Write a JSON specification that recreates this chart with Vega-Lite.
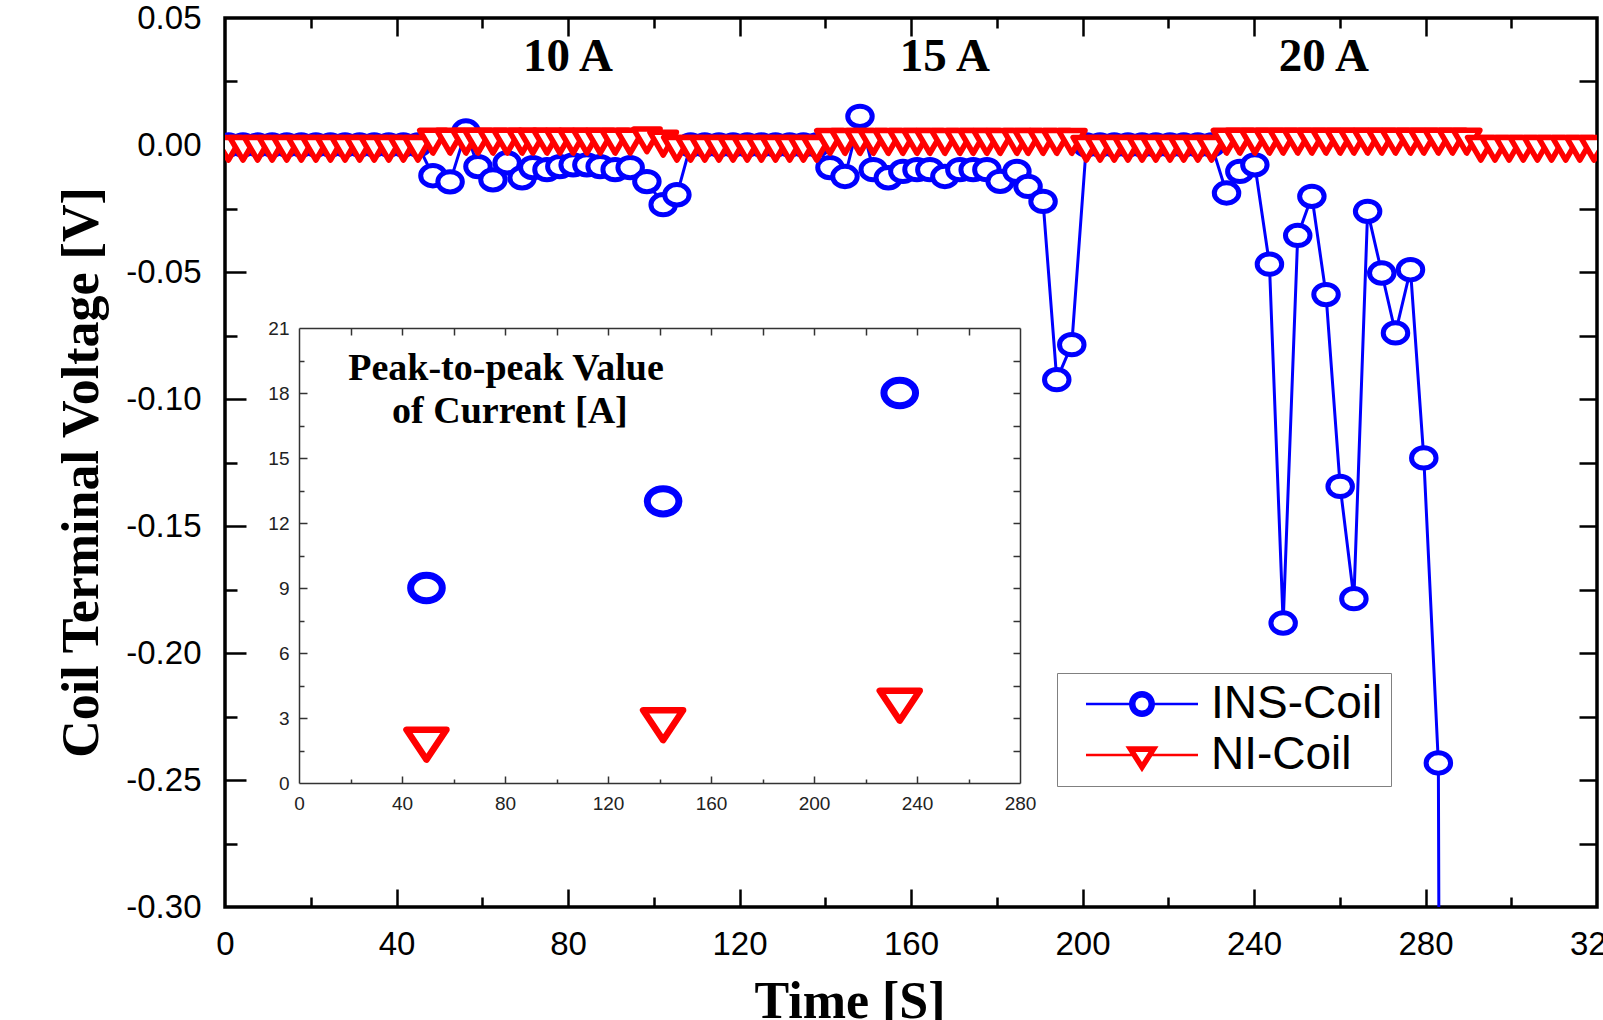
{
  "$schema": "https://vega.github.io/schema/vega-lite/v6.json",
  "width": 1372,
  "height": 889,
  "autosize": {"type": "none"},
  "padding": {"left": 225, "top": 18, "right": 6, "bottom": 113},
  "background": "white",
  "config": {
    "view": {"stroke": "black", "strokeWidth": 3.5},
    "axis": {"grid": false, "labelFont": "Liberation Sans", "labelColor": "black", "tickColor": "black", "domainColor": "black", "titleFont": "Liberation Serif", "titleColor": "black", "labelFlush": false, "labelOverlap": false, "labelBound": false}
  },
  "datasets": {
    "ins": [
      {"t":0.8,"v":0},{"t":4.2,"v":0},{"t":7.6,"v":0},{"t":11.0,"v":0},{"t":14.4,"v":0},{"t":17.8,"v":0},{"t":21.2,"v":0},{"t":24.6,"v":0},{"t":28.0,"v":0},{"t":31.4,"v":0},{"t":34.8,"v":0},{"t":38.2,"v":0},{"t":41.6,"v":0},{"t":45.0,"v":0},
      {"t":48.5,"v":-0.0121},{"t":52.5,"v":-0.0145},{"t":56.2,"v":0.0055},{"t":59.0,"v":-0.0085},{"t":62.5,"v":-0.0137},{"t":65.8,"v":-0.0070},{"t":69.3,"v":-0.0129},{"t":71.8,"v":-0.0089},{"t":75.1,"v":-0.0097},{"t":78.1,"v":-0.0085},{"t":81.2,"v":-0.0078},{"t":84.4,"v":-0.0078},{"t":87.5,"v":-0.0085},{"t":91.0,"v":-0.0097},{"t":94.5,"v":-0.0089},{"t":98.4,"v":-0.0144},{"t":102.2,"v":-0.0235},{"t":105.4,"v":-0.0196},
      {"t":108.6,"v":0},{"t":111.9,"v":0},{"t":115.2,"v":0},{"t":118.5,"v":0},{"t":121.8,"v":0},{"t":125.1,"v":0},{"t":128.4,"v":0},{"t":131.7,"v":0},{"t":134.9,"v":0},{"t":138.0,"v":0},
      {"t":141.1,"v":-0.0089},{"t":144.6,"v":-0.0124},{"t":148.1,"v":0.0113},{"t":151.2,"v":-0.0097},{"t":154.7,"v":-0.0129},{"t":158.1,"v":-0.0104},{"t":161.4,"v":-0.0097},{"t":164.4,"v":-0.0097},{"t":167.9,"v":-0.0124},{"t":171.4,"v":-0.0097},{"t":174.5,"v":-0.0097},{"t":177.7,"v":-0.0097},{"t":180.8,"v":-0.0143},{"t":184.7,"v":-0.0104},{"t":187.3,"v":-0.0163},{"t":190.8,"v":-0.0222},{"t":194.0,"v":-0.0924},{"t":197.5,"v":-0.0786},
      {"t":200.9,"v":0},{"t":204.1,"v":0},{"t":207.4,"v":0},{"t":210.6,"v":0},{"t":213.9,"v":0},{"t":217.1,"v":0},{"t":220.4,"v":0},{"t":223.6,"v":0},{"t":226.9,"v":0},{"t":230.1,"v":0},
      {"t":233.6,"v":-0.0189},{"t":236.7,"v":-0.0104},{"t":240.2,"v":-0.0078},{"t":243.6,"v":-0.0469},{"t":246.8,"v":-0.1882},{"t":250.2,"v":-0.0356},{"t":253.5,"v":-0.0202},{"t":256.8,"v":-0.0589},{"t":260.1,"v":-0.1344},{"t":263.3,"v":-0.1786},{"t":266.5,"v":-0.0261},{"t":269.8,"v":-0.0504},{"t":273.0,"v":-0.0740},{"t":276.5,"v":-0.0491},{"t":279.6,"v":-0.1232},{"t":283.0,"v":-0.2433},{"t":283.4,"v":-0.45}
    ],
    "ni": [
      {"t":0.8,"v":0},{"t":4.2,"v":0},{"t":7.6,"v":0},{"t":11.0,"v":0},{"t":14.4,"v":0},{"t":17.8,"v":0},{"t":21.2,"v":0},{"t":24.6,"v":0},{"t":28.0,"v":0},{"t":31.4,"v":0},{"t":34.8,"v":0},{"t":38.2,"v":0},{"t":41.6,"v":0},{"t":45.0,"v":0},
      {"t":48.5,"v":0.0028},{"t":52.5,"v":0.0028},{"t":56.2,"v":0.0028},{"t":59.0,"v":0.0028},{"t":62.5,"v":0.0028},{"t":65.8,"v":0.0028},{"t":69.3,"v":0.0028},{"t":71.8,"v":0.0028},{"t":75.1,"v":0.0028},{"t":78.1,"v":0.0028},{"t":81.2,"v":0.0028},{"t":84.4,"v":0.0028},{"t":87.5,"v":0.0028},{"t":91.0,"v":0.0028},{"t":94.5,"v":0.0028},{"t":98.4,"v":0.0033},{"t":102.2,"v":0.002},{"t":105.4,"v":0},
      {"t":108.6,"v":0},{"t":111.9,"v":0},{"t":115.2,"v":0},{"t":118.5,"v":0},{"t":121.8,"v":0},{"t":125.1,"v":0},{"t":128.4,"v":0},{"t":131.7,"v":0},{"t":134.9,"v":0},{"t":138.0,"v":0},
      {"t":141.1,"v":0.0027},{"t":144.6,"v":0.0027},{"t":148.1,"v":0.0027},{"t":151.2,"v":0.0027},{"t":154.7,"v":0.0027},{"t":158.1,"v":0.0027},{"t":161.4,"v":0.0027},{"t":164.4,"v":0.0027},{"t":167.9,"v":0.0027},{"t":171.4,"v":0.0027},{"t":174.5,"v":0.0027},{"t":177.7,"v":0.0027},{"t":180.8,"v":0.0027},{"t":184.7,"v":0.0027},{"t":187.3,"v":0.0027},{"t":190.8,"v":0.0027},{"t":194.0,"v":0.0027},{"t":197.5,"v":0.0027},
      {"t":200.9,"v":0},{"t":204.1,"v":0},{"t":207.4,"v":0},{"t":210.6,"v":0},{"t":213.9,"v":0},{"t":217.1,"v":0},{"t":220.4,"v":0},{"t":223.6,"v":0},{"t":226.9,"v":0},{"t":230.1,"v":0},
      {"t":233.6,"v":0.0028},{"t":236.7,"v":0.0028},{"t":240.2,"v":0.0028},{"t":243.6,"v":0.0028},{"t":246.8,"v":0.0028},{"t":250.2,"v":0.0028},{"t":253.5,"v":0.0028},{"t":256.8,"v":0.0028},{"t":260.1,"v":0.0028},{"t":263.3,"v":0.0028},{"t":266.5,"v":0.0028},{"t":269.8,"v":0.0028},{"t":273.0,"v":0.0028},{"t":276.5,"v":0.0028},{"t":279.6,"v":0.0028},{"t":283.0,"v":0.0028},{"t":286.3,"v":0.0028},{"t":289.6,"v":0.0028},
      {"t":292.9,"v":0},{"t":296.2,"v":0},{"t":299.5,"v":0},{"t":302.8,"v":0},{"t":306.1,"v":0},{"t":309.4,"v":0},{"t":312.7,"v":0},{"t":316.0,"v":0},{"t":319.3,"v":0}
    ],
    "labels": [
      {"label":"10 A","t":80.0,"v":0.0291},
      {"label":"15 A","t":167.9,"v":0.0291},
      {"label":"20 A","t":256.3,"v":0.0291}
    ],
    "leg": [
      {"series":"INS-Coil","t":-50,"v":-1},
      {"series":"NI-Coil","t":-50,"v":-1}
    ],
    "ins_pp": [
      {"t":49.5,"a":9.0},{"t":141.4,"a":13.0},{"t":233.3,"a":18.0}
    ],
    "ni_pp": [
      {"t":49.5,"a":2.0},{"t":141.4,"a":2.9},{"t":233.3,"a":3.8}
    ],
    "inset_text": [
      {"label":"Peak-to-peak Value","t":80.4,"a":18.6},
      {"label":"of Current [A]","t":81.9,"a":16.6}
    ]
  },
  "layer": [
    {
      "layer": [
        {
          "data": {"name": "ins"},
          "mark": {"type": "line", "color": "#0000ff", "strokeWidth": 3, "clip": true},
          "encoding": {
            "x": {"field": "t", "type": "quantitative", "scale": {"domain": [0, 320], "nice": false, "zero": false},
              "axis": {"orient": "bottom", "values": [0,40,80,120,160,200,240,280,320], "ticks": false, "domain": false, "labelFontSize": 33, "labelPadding": 21, "title": "Time [S]", "titleFontSize": 52, "titleFontWeight": "bold", "titleX": 624.5, "titleY": 110.5, "titleAlign": "center", "titleBaseline": "alphabetic", "titleAngle": 0}},
            "y": {"field": "v", "type": "quantitative", "scale": {"domain": [-0.3, 0.05], "nice": false, "zero": false},
              "axis": {"orient": "left", "values": [0.05,0,-0.05,-0.1,-0.15,-0.2,-0.25,-0.3], "labelExpr": "replace(format(datum.value, '.2f'), '−', '-')", "ticks": false, "domain": false, "labelFontSize": 33, "labelPadding": 24, "title": "Coil Terminal Voltage [V]", "titleFontSize": 52, "titleFontWeight": "bold", "titleX": -128, "titleY": 454, "titleAngle": -90, "titleAlign": "center", "titleBaseline": "alphabetic"}}
          }
        },
        {
          "data": {"name": "ins"},
          "mark": {"type": "point", "shape": "M -1 0 A 1 0.83 0 1 1 1 0 A 1 0.83 0 1 1 -1 0 Z", "size": 600, "filled": true, "fill": "white", "stroke": "#0000ff", "strokeWidth": 5, "opacity": 1, "clip": true},
          "encoding": {
            "x": {"field": "t", "type": "quantitative", "axis": {"orient": "bottom", "values": [40,80,120,160,200,240,280], "labels": false, "domain": false, "tickSize": -18, "tickWidth": 2.5, "title": null}},
            "y": {"field": "v", "type": "quantitative", "axis": {"orient": "left", "values": [0,-0.05,-0.1,-0.15,-0.2,-0.25], "labels": false, "domain": false, "tickSize": -21, "tickWidth": 2.5, "title": null}}
          }
        },
        {
          "data": {"name": "ni"},
          "mark": {"type": "line", "color": "#ff0000", "strokeWidth": 2, "clip": true},
          "encoding": {
            "x": {"field": "t", "type": "quantitative", "axis": {"orient": "bottom", "values": [20,60,100,140,180,220,260,300], "labels": false, "domain": false, "tickSize": -10, "tickWidth": 2.5, "title": null}},
            "y": {"field": "v", "type": "quantitative", "axis": {"orient": "left", "values": [0.025,-0.025,-0.075,-0.125,-0.175,-0.225,-0.275], "labels": false, "domain": false, "tickSize": -12, "tickWidth": 2.5, "title": null}}
          }
        },
        {
          "data": {"name": "ni"},
          "mark": {"type": "point", "shape": "M -1 -0.57 L 1 -0.57 L 0 1.14 Z", "size": 702, "filled": true, "fill": "white", "stroke": "#ff0000", "strokeWidth": 5.5, "strokeJoin": "round", "opacity": 1, "clip": true},
          "encoding": {
            "x": {"field": "t", "type": "quantitative", "axis": {"orient": "top", "values": [40,80,120,160,200,240,280], "labels": false, "domain": false, "tickSize": -18, "tickWidth": 2.5, "title": null}},
            "y": {"field": "v", "type": "quantitative", "axis": {"orient": "right", "values": [0.025,0,-0.025,-0.05,-0.075,-0.1,-0.125,-0.15,-0.175,-0.2,-0.225,-0.25,-0.275], "labels": false, "domain": false, "tickSize": -18, "tickWidth": 2.5, "title": null}}
          }
        },
        {
          "data": {"name": "labels"},
          "mark": {"type": "text", "font": "Liberation Serif", "fontWeight": "bold", "fontSize": 47, "align": "center", "baseline": "alphabetic", "color": "black"},
          "encoding": {
            "x": {"field": "t", "type": "quantitative", "axis": {"orient": "top", "values": [20,60,100,140,180,220,260,300], "labels": false, "domain": false, "tickSize": -10, "tickWidth": 2.5, "title": null}},
            "y": {"field": "v", "type": "quantitative", "axis": null},
            "text": {"field": "label"}
          }
        },
        {
          "data": {"name": "leg"},
          "mark": {"type": "point", "filled": true, "opacity": 1, "clip": true, "strokeWidth": 0},
          "encoding": {
            "x": {"field": "t", "type": "quantitative", "axis": null},
            "y": {"field": "v", "type": "quantitative", "axis": null},
            "color": {"field": "series", "type": "nominal", "scale": {"domain": ["INS-Coil", "NI-Coil"], "range": ["#0000ff", "#ff0000"]},
              "legend": {"orient": "none", "legendX": 832, "legendY": 655, "title": null, "padding": 8, "strokeColor": "#808080", "fillColor": "white", "symbolSize": 400, "symbolStrokeWidth": 0, "symbolOffset": 54, "labelOffset": 46, "labelFontSize": 46, "labelFont": "Liberation Sans", "labelColor": "black", "rowPadding": 5, "labelLimit": 400}},
            "shape": {"field": "series", "type": "nominal", "scale": {"domain": ["INS-Coil", "NI-Coil"], "range": [
              "M -5.6 -0.12 L -1.25 -0.12 L -1.25 0.12 L -5.6 0.12 Z M 1.25 -0.12 L 5.6 -0.12 L 5.6 0.12 L 1.25 0.12 Z M -1.3 0 A 1.3 1.3 0 1 1 1.3 0 A 1.3 1.3 0 1 1 -1.3 0 Z M -0.65 0 A 0.65 0.65 0 1 0 0.65 0 A 0.65 0.65 0 1 0 -0.65 0 Z",
              "M -5.6 -0.12 L -1.0 -0.12 L -1.0 0.12 L -5.6 0.12 Z M 1.0 -0.12 L 5.6 -0.12 L 5.6 0.12 L 1.0 0.12 Z M -1.65 -0.87 L 1.65 -0.87 L 0 1.73 Z M -0.64 -0.31 L 0 0.7 L 0.64 -0.31 Z"
            ]},
              "legend": {"orient": "none", "legendX": 832, "legendY": 655, "title": null, "padding": 8, "strokeColor": "#808080", "fillColor": "white", "symbolSize": 400, "symbolStrokeWidth": 0, "symbolOffset": 54, "labelOffset": 46, "labelFontSize": 46, "labelFont": "Liberation Sans", "labelColor": "black", "rowPadding": 5, "labelLimit": 400}}
          }
        }
      ],
      "resolve": {"axis": {"x": "independent", "y": "independent"}}
    },
    {
      "layer": [
        {
          "data": {"name": "ins_pp"},
          "mark": {"type": "point", "shape": "M -1 0 A 1 0.8 0 1 1 1 0 A 1 0.8 0 1 1 -1 0 Z", "size": 1000, "filled": true, "fill": "white", "stroke": "#0000ff", "strokeWidth": 7, "opacity": 1},
          "encoding": {
            "x": {"field": "t", "type": "quantitative", "scale": {"domain": [0, 280], "range": [74, 795], "nice": false, "zero": false},
              "axis": {"orient": "bottom", "offset": -124, "values": [0,40,80,120,160,200,240,280], "ticks": false, "domain": true, "domainColor": "#333333", "domainWidth": 1.5, "labelFontSize": 19, "labelPadding": 11, "labelColor": "#222222", "title": null}},
            "y": {"field": "a", "type": "quantitative", "scale": {"domain": [0, 21], "range": [765, 310], "nice": false, "zero": false},
              "axis": {"orient": "left", "offset": -74, "values": [0,3,6,9,12,15,18,21], "ticks": false, "domain": true, "domainColor": "#333333", "domainWidth": 1.5, "labelFontSize": 19, "labelPadding": 10, "labelColor": "#222222", "title": null}}
          }
        },
        {
          "data": {"name": "ni_pp"},
          "mark": {"type": "point", "shape": "M -1 -0.5 L 1 -0.5 L 0 1 Z", "size": 1600, "filled": true, "fill": "white", "stroke": "#ff0000", "strokeWidth": 6.5, "strokeJoin": "round", "opacity": 1},
          "encoding": {
            "x": {"field": "t", "type": "quantitative", "axis": {"orient": "bottom", "offset": -124, "values": [40,80,120,160,200,240], "labels": false, "domain": false, "tickSize": -7, "tickWidth": 1.5, "tickColor": "#333333", "title": null}},
            "y": {"field": "a", "type": "quantitative", "axis": {"orient": "left", "offset": -74, "values": [3,6,9,12,15,18], "labels": false, "domain": false, "tickSize": -8, "tickWidth": 1.5, "tickColor": "#333333", "title": null}}
          }
        },
        {
          "data": {"name": "inset_text"},
          "mark": {"type": "text", "font": "Liberation Serif", "fontWeight": "bold", "fontSize": 38, "align": "center", "baseline": "alphabetic", "color": "black"},
          "encoding": {
            "x": {"field": "t", "type": "quantitative", "axis": {"orient": "bottom", "offset": -124, "values": [20,60,100,140,180,220,260], "labels": false, "domain": false, "tickSize": -4, "tickWidth": 1.5, "tickColor": "#333333", "title": null}},
            "y": {"field": "a", "type": "quantitative", "axis": {"orient": "left", "offset": -74, "values": [1.5,4.5,7.5,10.5,13.5,16.5,19.5], "labels": false, "domain": false, "tickSize": -5, "tickWidth": 1.5, "tickColor": "#333333", "title": null}},
            "text": {"field": "label"}
          }
        },
        {
          "data": {"name": "ins_pp"},
          "mark": {"type": "point", "opacity": 0},
          "encoding": {
            "x": {"field": "t", "type": "quantitative", "axis": {"orient": "top", "offset": -310, "values": [20,40,60,80,100,120,140,160,180,200,220,240,260], "labels": false, "domain": true, "domainColor": "#333333", "domainWidth": 1.5, "tickSize": -7, "tickWidth": 1.5, "tickColor": "#333333", "title": null}},
            "y": {"field": "a", "type": "quantitative", "axis": {"orient": "right", "offset": -577, "values": [1.5,3,4.5,6,7.5,9,10.5,12,13.5,15,16.5,18,19.5], "labels": false, "domain": true, "domainColor": "#333333", "domainWidth": 1.5, "tickSize": -7, "tickWidth": 1.5, "tickColor": "#333333", "title": null}}
          }
        }
      ],
      "resolve": {"axis": {"x": "independent", "y": "independent"}}
    }
  ],
  "resolve": {"scale": {"x": "independent", "y": "independent"}}
}
